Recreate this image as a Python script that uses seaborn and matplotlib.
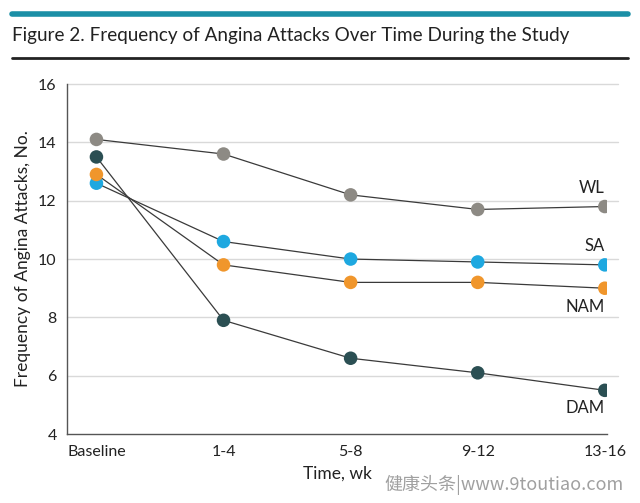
import pandas as pd
import matplotlib.pyplot as plt
import seaborn as sns
from matplotlib.lines import Line2D

periods = ["Baseline", "1-4", "5-8", "9-12", "13-16"]
groups = ["WL", "SA", "NAM", "DAM"]
wl = [14.1, 13.6, 12.2, 11.7, 11.8]
sa = [12.6, 10.6, 10.0, 9.9, 9.8]
nam = [12.9, 9.8, 9.2, 9.2, 9.0]
dam = [13.5, 7.9, 6.6, 6.1, 5.5]
colors = {"WL": "#8d8a84", "SA": "#1ea8e0", "NAM": "#f0962c", "DAM": "#2b4f53"}

df = pd.DataFrame({
    "period": periods * 4,
    "group": [g for g in groups for _ in periods],
    "value": wl + sa + nam + dam,
})

sns.set_style("white")
plt.rcParams["font.family"] = ["Lato", "DejaVu Sans"]

fig = plt.figure(figsize=(6.4, 5.03), dpi=100)
ax = fig.add_axes([0.105, 0.137, 0.844, 0.696])

sns.lineplot(data=df, x="period", y="value", units="group", estimator=None,
             color="#3a3a3a", linewidth=0.9, ax=ax, zorder=2)
sns.scatterplot(data=df, x="period", y="value", hue="group", palette=colors,
                s=95, edgecolor="none", legend=False, ax=ax, zorder=3)

ax.set_ylim(4, 16)
ax.set_xlim(-0.23, 4.02)
ax.set_yticks([4, 6, 8, 10, 12, 14, 16])
for y in [6, 8, 10, 12, 14, 16]:
    ax.add_line(Line2D([0, 1.02], [y, y], transform=ax.get_yaxis_transform(),
                       color="#d9d9d9", linewidth=1.0, zorder=1, clip_on=False))

for s in ["top", "right"]:
    ax.spines[s].set_visible(False)
for s in ["left", "bottom"]:
    ax.spines[s].set_color("#555555")
    ax.spines[s].set_linewidth(1.0)
ax.tick_params(axis="both", direction="out", length=4, width=1,
               color="#555555", labelsize=11.5, labelcolor="#222222")
ax.set_xlabel("Time, wk", fontsize=12.5, color="#222222", labelpad=5)
ax.set_ylabel("Frequency of Angina Attacks, No.", fontsize=12.5, color="#222222", labelpad=5)

label_pos = {"WL": 12.45, "SA": 10.45, "NAM": 8.35, "DAM": 4.9}
for g in groups:
    ax.text(4.0, label_pos[g], g, ha="right", va="center", fontsize=12, color="#222222")

# header decorations
fig.add_artist(Line2D([0.019, 0.981], [0.972, 0.972], color="#1b8fa6", linewidth=4))
fig.add_artist(Line2D([0.019, 0.981], [0.885, 0.885], color="#222222", linewidth=2))
fig.text(0.019, 0.93, "Figure 2. Frequency of Angina Attacks Over Time During the Study",
         fontsize=13.6, color="#222222", va="center", ha="left")

fig.text(0.6, 0.015, "健康头条|www.9toutiao.com", ha="left", va="bottom",
         fontsize=13, color="#a0a0a0",
         family=["Noto Sans CJK SC", "DejaVu Sans"])

fig.savefig("out.png", dpi=100)
